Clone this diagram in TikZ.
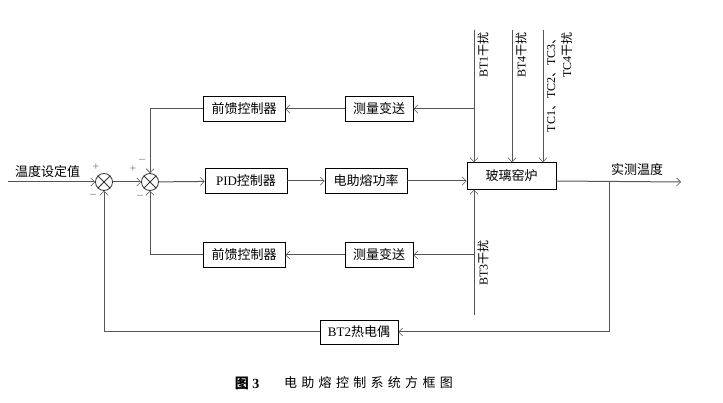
\documentclass[tikz,border=0pt]{standalone}
\usepackage{fontspec}
\setmainfont{Liberation Serif}
\newfontfamily\cjk{Noto Sans CJK SC}
\usetikzlibrary{arrows.meta}
\definecolor{ln}{HTML}{555555}
\tikzset{
  blk/.style={draw=black, line width=0.7pt, minimum height=25pt, inner sep=1pt,
    font=\fontsize{13}{15}\selectfont, fill=white},
  sumj/.style={draw=black!80, line width=0.8pt, circle, minimum size=17pt, inner sep=0pt},
  con/.style={draw=ln, line width=1pt},
  arr/.style={con, -{Straight Barb[length=4pt,width=8pt,line width=0.6pt]}},
  sgn/.style={font=\fontsize{12}{12}\selectfont, text=black!55, inner sep=0pt},
  lbl/.style={font=\fontsize{13}{15}\selectfont, inner sep=0pt},
  vlbl/.style={font=\fontsize{12}{16}\selectfont, inner sep=0pt, rotate=90, anchor=east},
}
\begin{document}
\begin{tikzpicture}[x=1pt,y=-1pt]
\useasboundingbox (0,0) rectangle (723,403);
% nodes
\node[sumj] (s1) at (104,182) {};
\node[sumj] (s2) at (150,182) {};
\draw[black!80,line width=0.8pt] (s1.45)--(s1.225) (s1.135)--(s1.315);
\draw[black!80,line width=0.8pt] (s2.45)--(s2.225) (s2.135)--(s2.315);
\node[blk, minimum width=82pt] (fft) at (244,109) {\cjk 前馈控制器};
\node[blk, minimum width=68pt] (mst) at (379,109) {\cjk 测量变送};
\node[blk, minimum width=82pt] (pid) at (246,181) {PID{\cjk 控制器}};
\node[blk, minimum width=82pt] (pw) at (366,181) {\cjk 电助熔功率};
\node[blk, minimum width=89pt, minimum height=27pt] (fur) at (511.5,176) {\cjk 玻璃窑炉};
\node[blk, minimum width=82pt] (ffb) at (244,255) {\cjk 前馈控制器};
\node[blk, minimum width=68pt] (msb) at (379,255) {\cjk 测量变送};
\node[blk, minimum width=78pt, minimum height=24pt] (bt2) at (359,332) {BT2{\cjk 热电偶}};
% coordinates
\coordinate (in) at (8,182);
\coordinate (out) at (681,182);
\coordinate (d1) at (474,30);
\coordinate (d4) at (512,30);
\coordinate (dtc) at (543,30);
\coordinate (d3) at (474,315);
\coordinate (fbr) at (609,182);
% connectors
\draw[arr] (in) -- (s1);
\draw[arr] (s1) -- (s2);
\draw[arr] (s2) -- (pid);
\draw[arr] (pid) -- (pw);
\draw[arr] (pw) -- (fur.west |- pw);
\draw[arr] (fur.east |- pw) -- (out);
\draw[arr] (d1) -- (fur.north -| d1);
\draw[arr] (d4) -- (fur.north -| d4);
\draw[arr] (dtc) -- (fur.north -| dtc);
\draw[arr] (d3) -- (fur.south -| d3);
\draw[arr] (mst.east -| d1) -- (mst.east);
\draw[arr] (mst) -- (fft);
\draw[arr] (fft.west) -| (s2.north);
\draw[arr] (msb.east -| d3) -- (msb.east);
\draw[arr] (msb) -- (ffb);
\draw[arr] (ffb.west) -| (s2.south);
\draw[arr] (fbr) |- (bt2.east);
\draw[arr] (bt2.west) -| (s1.south);
% labels
\node[lbl, anchor=base west] (tin) at (15,177) {\cjk 温度设定值};
\node[lbl, anchor=base west] (tout) at (611,175) {\cjk 实测温度};
\node[vlbl] (l1) at (483,32) {BT1{\cjk 干扰}};
\node[vlbl] (l4) at (521,32) {BT4{\cjk 干扰}};
\node[vlbl, align=right] (ltc) at (559.5,32) {TC1{\cjk 、}TC2{\cjk 、}TC3{\cjk 、}\\TC4{\cjk 干扰}};
\node[vlbl] (l3) at (483,240) {BT3{\cjk 干扰}};
% signs
\node[sgn] (p1) at (96,167) {+};
\node[sgn] (m1) at (93,196) {\textendash};
\node[sgn] (p2) at (133,169) {+};
\node[sgn] (m2) at (142,161) {\textendash};
\node[sgn] (m3) at (140,197) {\textendash};
% caption
\node[inner sep=0pt, font=\fontsize{14}{16}\selectfont\bfseries] (cap1) at (247,383) {{\cjk 图} 3};
\node[inner sep=0pt, font=\fontsize{13}{15}\selectfont] (cap2) at (368.5,383)
  {\cjk 电\kern4.3pt 助\kern4.3pt 熔\kern4.3pt 控\kern4.3pt 制\kern4.3pt 系\kern4.3pt 统\kern4.3pt 方\kern4.3pt 框\kern4.3pt 图};
\end{tikzpicture}
\end{document}
